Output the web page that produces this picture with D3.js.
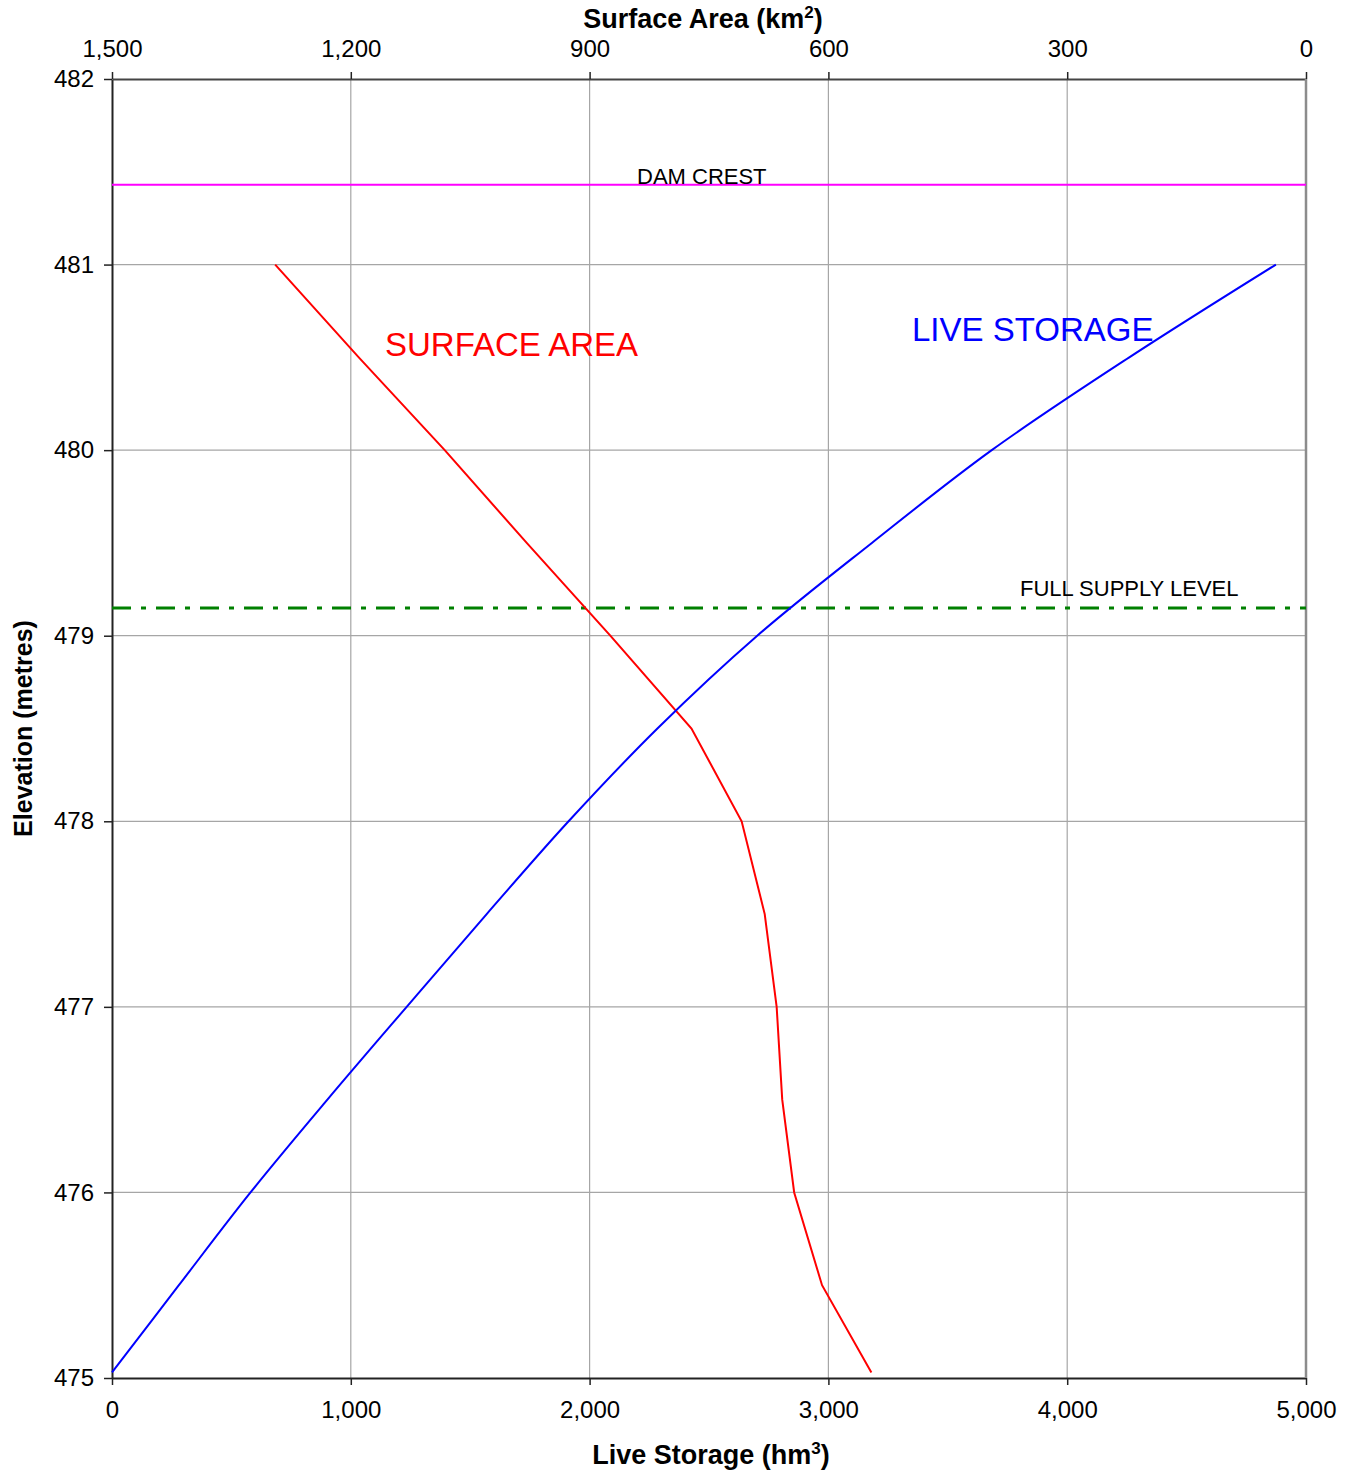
<!DOCTYPE html>
<html lang="en">
<head>
<meta charset="UTF-8">
<title>Elevation - Storage - Area</title>
<style>
  body { margin: 0; background: #fff; }
  svg text { font-family: "Liberation Sans", Arial, sans-serif; }
</style>
</head>
<body>
<div id="chart"></div>
<script src="https://d3js.org/d3.v7.min.js"></script>
<script>
// reservoir table
const elevation   = [475.03, 475.5, 476, 476.5, 477, 477.5, 478, 478.5, 479, 479.5, 480, 480.5, 481];
const liveStorage = [0, 280, 580, 902, 1234, 1569, 1912, 2284, 2702, 3182, 3684, 4260, 4874];
const surfaceArea = [546, 608, 643, 658, 665, 680, 709, 772, 874, 979, 1082, 1190, 1295];

const elevTicks    = [475, 476, 477, 478, 479, 480, 481, 482];
const storageTicks = [0, 1000, 2000, 3000, 4000, 5000];
const areaTicks    = [1500, 1200, 900, 600, 300, 0];

const damCrest = 481.43;
const fullSupply = 479.15;

const margin = {top: 79, right: 48, bottom: 95, left: 112},
      width = 1354 - margin.left - margin.right,
      height = 1473 - margin.top - margin.bottom;

const svg = d3.select("#chart").append("svg")
    .attr("width", 1354)
    .attr("height", 1473)
  .append("g")
    .attr("transform", `translate(${margin.left},${margin.top})`);

const y = d3.scaleLinear().domain([475, 482]).range([height, 0]);
const xS = d3.scaleLinear().domain([0, 5000]).range([0, width]);
const xA = d3.scaleLinear().domain([1500, 0]).range([0, width]);

const fmt = d3.format(",");

// grid
svg.append("g").selectAll("line")
  .data(elevTicks.slice(1, -1))
  .join("line")
    .attr("x1", 0).attr("x2", width)
    .attr("y1", d => y(d)).attr("y2", d => y(d))
    .attr("stroke", "#a6a6a6").attr("stroke-width", 1.2);

svg.append("g").selectAll("line")
  .data(storageTicks.slice(1, -1))
  .join("line")
    .attr("x1", d => xS(d)).attr("x2", d => xS(d))
    .attr("y1", 0).attr("y2", height)
    .attr("stroke", "#a6a6a6").attr("stroke-width", 1.2);

// axes
const yAxis = svg.append("g")
    .call(d3.axisLeft(y).tickValues(elevTicks).tickFormat(d3.format("d")).tickSize(8).tickSizeOuter(0).tickPadding(10));
const bAxis = svg.append("g")
    .attr("transform", `translate(0,${height})`)
    .call(d3.axisBottom(xS).tickValues(storageTicks).tickFormat(fmt).tickSize(7).tickSizeOuter(0).tickPadding(16));
const tAxis = svg.append("g")
    .call(d3.axisTop(xA).tickValues(areaTicks).tickFormat(fmt).tickSize(7).tickSizeOuter(0).tickPadding(15));

[yAxis, bAxis, tAxis].forEach(a => {
  a.selectAll("text").attr("font-size", 24).attr("fill", "#000")
    .attr("font-family", "'Liberation Sans', Arial, sans-serif");
  a.selectAll("line").attr("stroke", "#222").attr("stroke-width", 1.5);
  a.select(".domain").attr("stroke", "#222").attr("stroke-width", 2);
});
tAxis.select(".domain").attr("stroke", "#444");

// right border
svg.append("line")
    .attr("x1", width).attr("x2", width)
    .attr("y1", 0).attr("y2", height)
    .attr("stroke", "#8c8c8c").attr("stroke-width", 2.5);

// reference levels
svg.append("line")
    .attr("x1", 0).attr("x2", width)
    .attr("y1", y(damCrest)).attr("y2", y(damCrest))
    .attr("stroke", "#ff00ff").attr("stroke-width", 2);

svg.append("line")
    .attr("x1", 0).attr("x2", width)
    .attr("y1", y(fullSupply)).attr("y2", y(fullSupply))
    .attr("stroke", "#008000").attr("stroke-width", 3)
    .attr("stroke-dasharray", "19,10,5,10");

const rows = elevation.map((e, i) => ({e, s: liveStorage[i], a: surfaceArea[i]}));

svg.append("path")
    .datum(rows)
    .attr("fill", "none")
    .attr("stroke", "#ff0000")
    .attr("stroke-width", 2)
    .attr("d", d3.line().x(d => xA(d.a)).y(d => y(d.e)));

svg.append("path")
    .datum(rows)
    .attr("fill", "none")
    .attr("stroke", "#0000ff")
    .attr("stroke-width", 2)
    .attr("d", d3.line().curve(d3.curveCatmullRom).x(d => xS(d.s)).y(d => y(d.e)));

// labels
svg.append("text")
    .attr("x", 525).attr("y", y(damCrest) - 1)
    .attr("font-size", 22)
    .text("DAM CREST");

svg.append("text")
    .attr("x", 908).attr("y", y(fullSupply) - 12)
    .attr("font-size", 22)
    .text("FULL SUPPLY LEVEL");

svg.append("text")
    .attr("x", 273).attr("y", 277)
    .attr("font-size", 33)
    .attr("fill", "#ff0000")
    .text("SURFACE AREA");

svg.append("text")
    .attr("x", 800).attr("y", 262)
    .attr("font-size", 33)
    .attr("fill", "#0000ff")
    .text("LIVE STORAGE");

// axis titles
const topTitle = svg.append("text")
    .attr("x", width / 2 - 6).attr("y", -51)
    .attr("text-anchor", "middle")
    .attr("font-size", 27).attr("font-weight", "bold");
topTitle.append("tspan").text("Surface Area (km");
topTitle.append("tspan").attr("dy", -10).attr("font-size", 17).text("2");
topTitle.append("tspan").attr("dy", 10).text(")");

const botTitle = svg.append("text")
    .attr("x", width / 2 + 2).attr("y", height + 86)
    .attr("text-anchor", "middle")
    .attr("font-size", 27).attr("font-weight", "bold");
botTitle.append("tspan").text("Live Storage (hm");
botTitle.append("tspan").attr("dy", -10).attr("font-size", 17).text("3");
botTitle.append("tspan").attr("dy", 10).text(")");

svg.append("text")
    .attr("transform", "rotate(-90)")
    .attr("x", -(y(478.5)))
    .attr("y", -80)
    .attr("text-anchor", "middle")
    .attr("font-size", 25).attr("font-weight", "bold")
    .text("Elevation (metres)");
</script>
</body>
</html>
